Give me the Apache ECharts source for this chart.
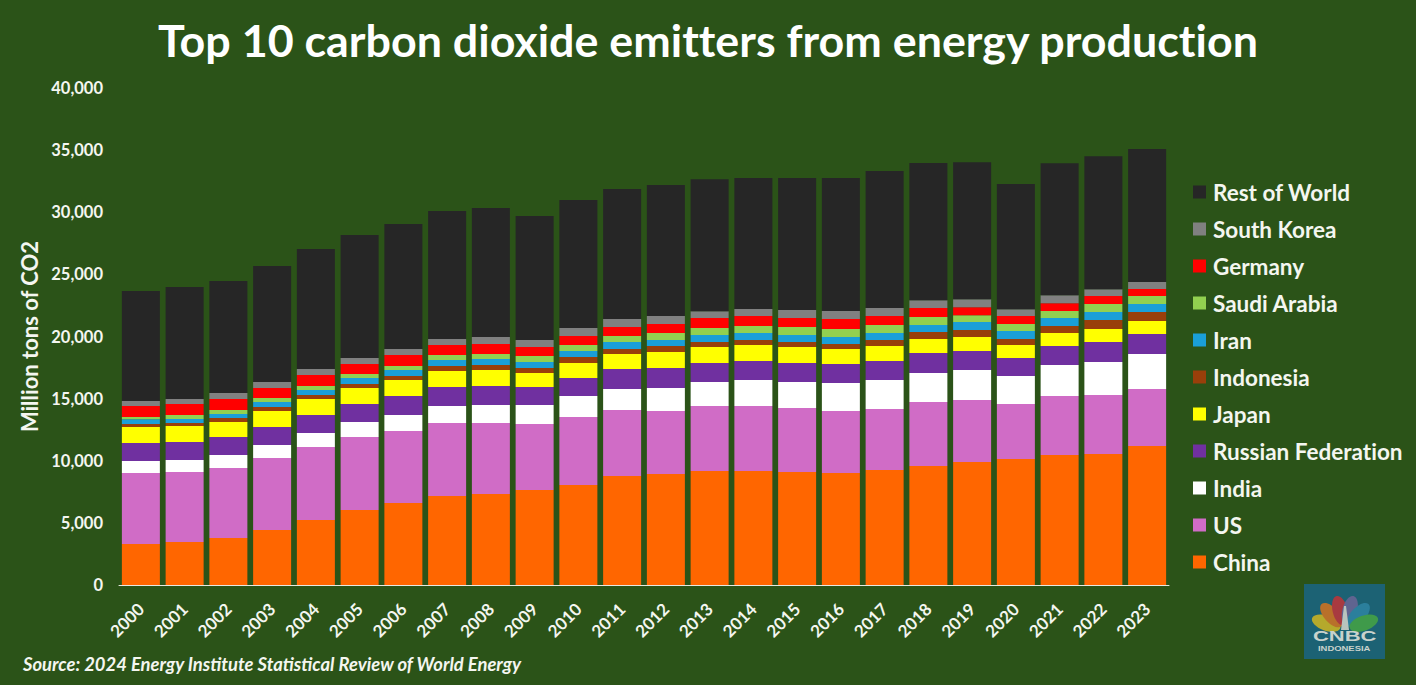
<!DOCTYPE html>
<html>
<head>
<meta charset="utf-8">
<title>Top 10 carbon dioxide emitters</title>
<style>
  html, body { margin: 0; padding: 0; background: #2b5318; }
  #chart { width: 1416px; height: 685px; }
  #chart text { font-variant-ligatures: none; }
</style>
<script src="https://cdn.jsdelivr.net/npm/echarts@6/dist/echarts.min.js"></script>
</head>
<body>
<div id="chart"></div>
<script>
// million tons of CO2
const years = ['2000','2001','2002','2003','2004','2005','2006','2007','2008','2009','2010','2011','2012','2013','2014','2015','2016','2017','2018','2019','2020','2021','2022','2023'];
const china = [3300,3460,3780,4430,5230,6040,6600,7165,7325,7650,8050,8775,8935,9175,9175,9095,9015,9260,9580,9900,10140,10465,10545,11190];
const us = [5715,5635,5635,5795,5875,5875,5795,5875,5715,5315,5475,5315,5070,5230,5230,5150,4990,4910,5150,4990,4430,4750,4750,4590];
const india = [965,965,1045,1045,1125,1210,1290,1370,1450,1530,1690,1690,1850,1930,2095,2095,2255,2335,2335,2415,2255,2495,2655,2820];
const russia = [1450,1450,1450,1450,1450,1450,1530,1530,1530,1450,1450,1610,1610,1530,1530,1530,1530,1530,1610,1530,1450,1530,1610,1610];
const japan = [1290,1290,1210,1290,1290,1290,1290,1290,1290,1125,1210,1210,1290,1290,1290,1290,1210,1210,1125,1125,1045,1045,1045,1045];
const indonesia = [240,240,320,320,320,320,320,400,400,400,480,400,480,400,400,400,400,480,560,560,480,560,725,725];
const iran = [380,320,320,400,400,480,480,480,480,480,480,560,480,560,560,560,560,560,560,640,640,640,640,640];
const saudi = [185,320,320,320,320,320,320,400,400,480,480,480,560,560,560,640,640,640,640,560,560,560,640,640];
const germany = [885,885,885,805,885,805,885,805,805,725,725,725,725,805,805,725,805,725,725,640,640,640,640,560];
const korea = [400,400,480,480,480,480,480,480,560,560,640,640,640,560,560,640,640,640,640,640,560,640,560,560];
const rest = [8855,9015,9015,9340,9660,9900,10065,10305,10385,9980,10305,10465,10545,10625,10545,10625,10705,11030,11030,11030,10065,10625,10705,10705];

const names = ['China','US','India','Russian Federation','Japan','Indonesia','Iran','Saudi Arabia','Germany','South Korea','Rest of World'];
const values = [china,us,india,russia,japan,indonesia,iran,saudi,germany,korea,rest];
const colors = ['#ff6600','#d06cc6','#ffffff','#7030a0','#ffff00','#993f0a','#1a9fd8','#92d050','#ff0000','#808080','#262626'];

const font = 'Lato';
const textColor = '#f4f6f0';

// peacock feathers for the logo, left to right
const feathers = ['#b5a92c','#b8702a','#a83a40','#5f6490','#2b7f9c','#3f9a4a'];
const logoCx = 1345, logoCy = 630;

let logo = [{
    type: 'rect',
    shape: { x: 1304, y: 584, width: 81, height: 75 },
    style: { fill: '#1c6274' }
}];
feathers.forEach((c, i) => {
    logo.push({
        type: 'ellipse',
        x: logoCx, y: logoCy,
        rotation: (70 - i * 28) * Math.PI / 180,
        shape: { cx: 0, cy: -20, rx: 7.5, ry: 15 },
        style: { fill: c }
    });
});
logo.push({
    type: 'polygon',
    shape: { points: [[logoCx - 1, 606], [logoCx + 1, 606], [logoCx + 4, 630], [logoCx - 4, 630]] },
    style: { fill: '#b9c4be' }
});
logo.push({
    type: 'text', x: 1313, y: 628, scaleY: 0.7,
    style: { text: 'CNBC', fill: '#c9d2cc', font: '900 22px "Liberation Sans"' }
});
logo.push({
    type: 'text', x: 1318, y: 644, scaleX: 1.18,
    style: { text: 'INDONESIA', fill: '#c9d2cc', font: 'bold 8px "Liberation Sans"' }
});

const chart = echarts.init(document.getElementById('chart'), null, { renderer: 'svg' });
chart.setOption({
    backgroundColor: '#2b5318',
    animation: false,
    textStyle: { fontFamily: font },
    title: {
        text: 'Top 10 carbon dioxide emitters from energy production',
        left: 'center',
        top: 12,
        textStyle: { color: '#fff', fontSize: 44.8, fontWeight: 'bold', fontFamily: font }
    },
    grid: { left: 119, top: 88, width: 1050, height: 497 },
    legend: {
        orient: 'vertical',
        left: 1188,
        top: 174,
        icon: 'rect',
        itemWidth: 13,
        itemHeight: 13,
        itemGap: 11,
        data: names.slice().reverse(),
        textStyle: { color: textColor, fontSize: 22.5, fontWeight: 'bold', fontFamily: font, lineHeight: 26, padding: [0, 0, 0, 2] }
    },
    xAxis: {
        type: 'category',
        data: years,
        axisLine: { lineStyle: { color: '#e8e8e0', width: 1 } },
        axisTick: { show: false },
        axisLabel: { color: textColor, fontSize: 17, fontWeight: 'bold', rotate: 45, margin: 21, interval: 0 }
    },
    yAxis: {
        type: 'value',
        min: 0,
        max: 40000,
        interval: 5000,
        name: 'Million tons of CO2',
        nameLocation: 'middle',
        nameGap: 74,
        nameTextStyle: { color: textColor, fontSize: 22, fontWeight: 'bold' },
        axisLine: { show: false },
        axisTick: { show: false },
        splitLine: { show: false },
        axisLabel: {
            color: textColor, fontSize: 16.5, fontWeight: 'bold', margin: 16,
            formatter: v => v.toLocaleString('en-US')
        }
    },
    series: names.map((n, i) => ({
        name: n,
        type: 'bar',
        stack: 'total',
        barWidth: 38,
        itemStyle: { color: colors[i] },
        data: values[i]
    })),
    graphic: [{
        type: 'text', left: 23, top: 655,
        style: {
            text: 'Source: 2024 Energy Institute Statistical Review of World Energy',
            fill: textColor,
            font: 'italic bold 18.4px Lato'
        }
    }].concat(logo)
});
</script>
</body>
</html>
